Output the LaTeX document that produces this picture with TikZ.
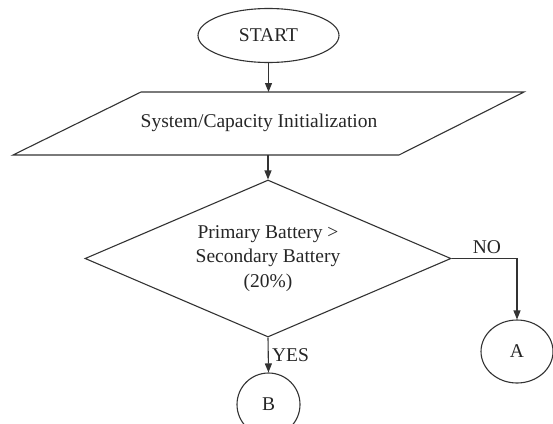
\documentclass[tikz,border=0pt]{standalone}
\usepackage{fontspec}
\setmainfont{Liberation Serif}
\usetikzlibrary{shapes.geometric,arrows.meta}
\begin{document}
\begin{tikzpicture}[x=1pt,y=-1pt,
  line width=1.1pt, draw=black!80,
  every node/.style={font=\fontsize{19.5}{24.5}\selectfont, text=black!85},
  shapebox/.style={draw, inner sep=0pt},
  arr/.style={draw, -{Triangle[length=9pt,width=7pt]}}]
\useasboundingbox (0,0) rectangle (553,423);
\clip (0,0) rectangle (553,423);
\node[shapebox, ellipse, minimum width=141pt, minimum height=54pt] (start) at (268.5,35.5) {START};
\coordinate (p1) at (141,92);
\coordinate (p2) at (524,92);
\coordinate (p3) at (399,155);
\coordinate (p4) at (13,155);
\draw (p1) -- (p2) -- (p3) -- (p4) -- cycle;
\node (init) at (259,123) {System/Capacity Initialization};
\coordinate (ptop) at (268.5,92);
\coordinate (pbot) at (268,155);
\node[shapebox, diamond, aspect=2.3, minimum width=366pt, minimum height=157pt, align=center] (dec) at (268,258.5) {Primary Battery >\\Secondary Battery\\(20\%)};
\node[shapebox, ellipse, minimum width=72pt, minimum height=63pt] (a) at (517,351.5) {A};
\node[shapebox, ellipse, minimum width=63pt, minimum height=63pt] (b) at (268.5,404.5) {B};
\draw[arr] (start.south) -- (ptop);
\draw[arr] (pbot) -- (dec.north);
\draw[arr] (dec.east) -| node[pos=0.27, above, yshift=1pt] {NO} (a.north);
\draw[arr] (dec.south) -- node[right] {YES} (b.north);
\end{tikzpicture}
\end{document}
